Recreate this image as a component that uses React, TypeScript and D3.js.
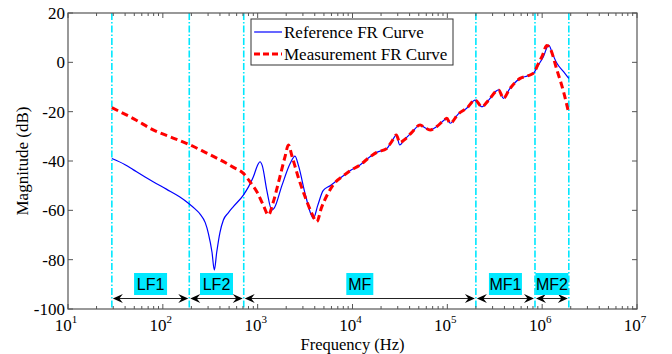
import React from "react";
import * as d3 from "d3";

// ---------- data ----------
const refFreq = [29, 40, 49, 65, 79, 110, 150, 186, 220, 247, 280, 302, 330, 349, 370, 400, 435, 490, 554, 707, 800, 901, 990, 1059, 1120, 1250, 1410, 1500, 1800, 2200, 2477, 2700, 3200, 3874, 4300, 4900, 5800, 6300, 8000, 9400, 12000, 15300, 18000, 22900, 26000, 29000, 31500, 35000, 42000, 51600, 58000, 65900, 77500, 92000, 98800, 107000, 130000, 160000, 197000, 231000, 270000, 347000, 391000, 450000, 586000, 700000, 810000, 900000, 1030000, 1170000, 1300000, 1430000, 1680000, 1910000];
const refMag = [-39, -41.5, -43.6, -46.5, -48.4, -51.5, -54.5, -57.1, -59.5, -61.5, -65, -69.3, -77, -84.2, -77, -69, -63.9, -61, -58.5, -53.8, -50.5, -46.4, -42, -40.3, -42, -52, -59.9, -59, -50, -41, -38, -42, -54, -63.2, -58, -52, -50, -49, -46, -44, -41.6, -38.3, -36.5, -35, -32, -29.5, -33.5, -31.5, -28.5, -25.4, -26.5, -27.4, -26, -23.5, -22.7, -24.7, -21, -18.6, -15.3, -18, -15.5, -11.2, -14.6, -11, -6.5, -5.5, -4.4, -1.5, 2.3, 7, 3, -0.4, -3.8, -6.5];

const measFreq = [29, 50, 80, 135, 194, 280, 400, 550, 707, 850, 977, 1150, 1297, 1450, 1700, 1950, 2109, 2300, 2700, 3162, 3700, 4197, 4700, 5370, 6300, 8000, 9400, 12000, 15300, 18000, 22900, 26000, 29000, 31500, 35000, 42000, 51600, 58000, 65900, 77500, 92000, 98800, 107000, 130000, 160000, 197000, 231000, 270000, 347000, 391000, 450000, 586000, 700000, 810000, 900000, 1000000, 1120000, 1200000, 1430000, 1680000, 1910000];
const measMag = [-18.4, -23, -27.5, -31, -33.5, -36.5, -39.5, -42.5, -45, -49, -52.4, -58, -61.9, -57, -47, -38, -33.5, -38, -47, -54.5, -61, -64.6, -59, -54, -49.5, -46, -44, -41.6, -38.3, -36.5, -35, -32, -29.5, -32.5, -31.5, -28.5, -25.4, -26.5, -27.4, -26, -23.5, -22.7, -24.7, -21, -18.6, -15.3, -18, -15.5, -11.2, -14.6, -11, -6.5, -5.5, -4.4, -1, 2.5, 6.8, 6, -3.1, -11.9, -20.7];

const boundaries = [29, 190, 713, 200000, 840000, 1910000];
const bandLabels = ["LF1", "LF2", "MF", "MF1", "MF2"];
const yTicks = [20, 0, -20, -40, -60, -80, -100];
const xDecades = [1, 2, 3, 4, 5, 6, 7];
const legendLabels = ["Reference FR Curve", "Measurement FR Curve"];

// ---------- layout ----------
const W = 672, H = 354;
const L = 68, R = 637, T = 13, B = 309;

const serifStyle = { fontFamily: "'Liberation Serif', 'Times New Roman', serif" };
const sansStyle = { fontFamily: "'Liberation Sans', Arial, sans-serif" };

export default function App() {
  const x = d3.scaleLog().domain([10, 1e7]).range([L, R]);
  const y = d3.scaleLinear().domain([-100, 20]).range([B, T]);

  const line = d3
    .line<[number, number]>()
    .x((d) => x(d[0]))
    .y((d) => y(d[1]))
    .curve(d3.curveMonotoneX);

  const refPath = line(refFreq.map((f, i) => [f, refMag[i]]));
  const measPath = line(measFreq.map((f, i) => [f, measMag[i]]));

  const minorTicks: number[] = [];
  for (let e = 1; e < 7; e++) for (let m = 2; m <= 9; m++) minorTicks.push(m * Math.pow(10, e));

  const axisColor = "#555";
  const arrowY = 298.5;

  const arrowHead = (tx: number, dir: number) => {
    const Lh = 10, Wh = 4.5, notch = 6.5;
    return `M${tx},${arrowY} L${tx + dir * Lh},${arrowY - Wh} L${tx + dir * notch},${arrowY} L${tx + dir * Lh},${arrowY + Wh} Z`;
  };

  return (
    <div style={{ position: "fixed", left: 0, top: 0 }}>
      <svg width={W} height={H} style={{ display: "block", background: "#fff" }}>
        <rect x={L} y={T} width={R - L} height={B - T} fill="#fff" />

        {boundaries.map((f, i) => (
          <line key={"b" + i} x1={x(f)} x2={x(f)} y1={T} y2={B} stroke="#00e8ff" strokeWidth={1.6} strokeDasharray="7,2,1.5,2" />
        ))}

        <path d={refPath || ""} fill="none" stroke="#0000ff" strokeWidth={1.2} />
        <path d={measPath || ""} fill="none" stroke="#ff0000" strokeWidth={3} strokeDasharray="7,4" />

        {bandLabels.map((lab, i) => {
          const x0 = x(boundaries[i]) + 1;
          const x1 = x(boundaries[i + 1]) - 1;
          const cx = (x(boundaries[i]) + x(boundaries[i + 1])) / 2;
          const tw = lab.length === 2 ? 27 : 33;
          return (
            <g key={"a" + i}>
              <line x1={x0 + 6} x2={x1 - 6} y1={arrowY} y2={arrowY} stroke="#222" strokeWidth={1} />
              <path d={arrowHead(x0, 1)} fill="#000" />
              <path d={arrowHead(x1, -1)} fill="#000" />
              <rect x={cx - tw / 2} y={273} width={tw} height={22} fill="#00e8ff" />
              <text x={cx} y={290} textAnchor="middle" style={sansStyle} fontSize={16} fill="#000">
                {lab}
              </text>
            </g>
          );
        })}

        <rect x={L} y={T} width={R - L} height={B - T} fill="none" stroke={axisColor} strokeWidth={1.2} />

        {yTicks.map((t) => (
          <g key={"y" + t}>
            <line x1={L} x2={L + 5} y1={y(t)} y2={y(t)} stroke={axisColor} />
            <line x1={R - 5} x2={R} y1={y(t)} y2={y(t)} stroke={axisColor} />
            <text x={L - 3} y={y(t) + 6} textAnchor="end" style={serifStyle} fontSize={17} fill="#000">
              {t}
            </text>
          </g>
        ))}

        {xDecades.map((e) => {
          const px = x(Math.pow(10, e));
          return (
            <g key={"x" + e}>
              <line x1={px} x2={px} y1={B} y2={B - 5} stroke={axisColor} />
              <line x1={px} x2={px} y1={T} y2={T + 5} stroke={axisColor} />
              <text x={px - 2} y={331} textAnchor="middle" style={serifStyle} fontSize={17} fill="#000">
                10
                <tspan dy={-8} fontSize={11}>
                  {e}
                </tspan>
              </text>
            </g>
          );
        })}
        {minorTicks.map((f, i) => (
          <g key={"m" + i}>
            <line x1={x(f)} x2={x(f)} y1={B} y2={B - 3} stroke={axisColor} />
            <line x1={x(f)} x2={x(f)} y1={T} y2={T + 3} stroke={axisColor} />
          </g>
        ))}

        <text x={(L + R) / 2} y={350} textAnchor="middle" style={serifStyle} fontSize={16.5} fill="#000">
          Frequency (Hz)
        </text>
        <text transform={`translate(28,${(T + B) / 2}) rotate(-90)`} textAnchor="middle" style={serifStyle} fontSize={17} fill="#000">
          Magnitude (dB)
        </text>

        <g>
          <rect x={251} y={19} width={202} height={46} fill="#fff" stroke="#333" strokeWidth={1} />
          <line x1={254} x2={282} y1={32} y2={32} stroke="#0000ff" strokeWidth={1.2} />
          <line x1={254} x2={282} y1={54} y2={54} stroke="#ff0000" strokeWidth={3} strokeDasharray="6,3" />
          <text x={284} y={38} style={serifStyle} fontSize={17} fill="#000">
            {legendLabels[0]}
          </text>
          <text x={284} y={60} style={serifStyle} fontSize={17} fill="#000">
            {legendLabels[1]}
          </text>
        </g>
      </svg>
    </div>
  );
}
